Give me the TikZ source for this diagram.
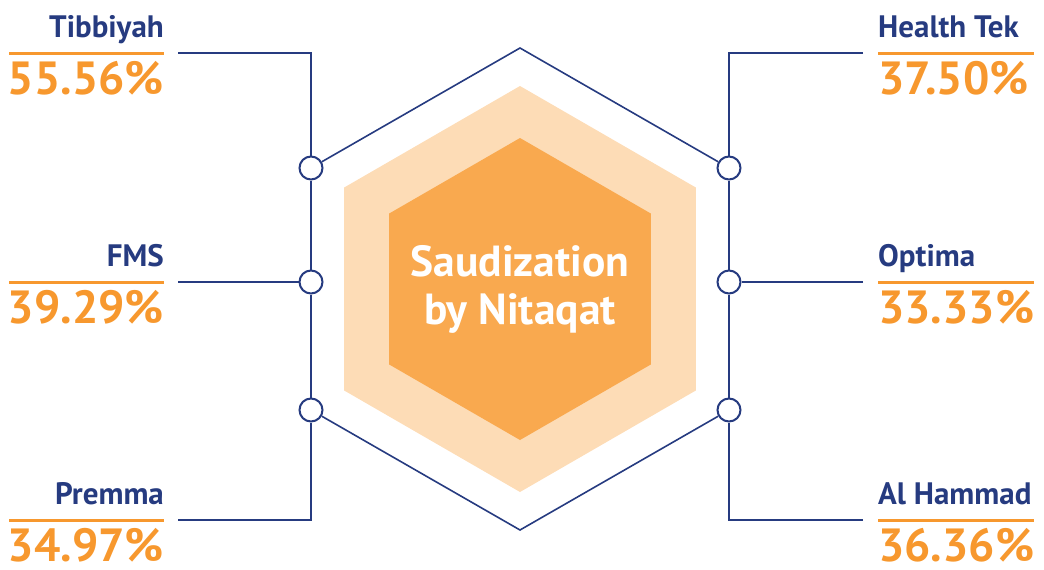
\documentclass[tikz,border=0pt]{standalone}
\usepackage{fontspec}
\setmainfont{PT Sans}
\usetikzlibrary{positioning}
\definecolor{navy}{HTML}{263B80}
\definecolor{amber}{HTML}{F7982E}
\definecolor{paleorange}{HTML}{FDDCB6}
\definecolor{midorange}{HTML}{F9A94F}

\begin{document}
\begin{tikzpicture}[x=1pt,y=-1pt,
  link/.style={navy,line width=1.6pt},
  dot/.style={circle,draw=navy,line width=2pt,fill=white,minimum size=23pt,inner sep=0pt},
  firm/.style={font=\bfseries\fontsize{31}{31}\selectfont,text=navy,inner sep=0pt},
  share/.style={font=\bfseries\fontsize{46.5}{46.5}\selectfont,text=amber,inner sep=0pt},
  rule/.style={amber,line width=3pt}]
\useasboundingbox (0,0) rectangle (1044,570);

% hexagons
\fill[paleorange,shift={(520,289)}] (90:203) -- (30:203) -- (-30:203) -- (-90:203) -- (-150:203) -- (150:203) -- cycle;
\fill[midorange,shift={(520,289)}] (90:151) -- (30:151) -- (-30:151) -- (-90:151) -- (-150:151) -- (150:151) -- cycle;
\node[font=\bfseries\fontsize{43.5}{48}\selectfont,text=white,align=center] (hub) at (520,289) {Saudization\\by Nitaqat};

\node[dot] (L1) at (311,168) {};
\node[dot] (L2) at (311,282) {};
\node[dot] (L3) at (311,410) {};
\node[dot] (R1) at (729,168) {};
\node[dot] (R2) at (729,282) {};
\node[dot] (R3) at (729,410) {};
\coordinate (top) at (520,48);
\coordinate (bot) at (520,530);
\coordinate (la) at (178,53);
\coordinate (lb) at (178,282);
\coordinate (lc) at (178,520);
\coordinate (ra) at (863,53);
\coordinate (rb) at (863,282);
\coordinate (rc) at (863,520);

\draw[link] (L1) -- (top) -- (R1);
\draw[link] (L3) -- (bot) -- (R3);
\draw[link] (L1) -- (L2) -- (L3);
\draw[link] (R1) -- (R2) -- (R3);
\draw[link] (la) -| (L1);
\draw[link] (lb) -- (L2);
\draw[link] (lc) -| (L3);
\draw[link] (ra) -| (R1);
\draw[link] (rb) -- (R2);
\draw[link] (rc) -| (R3);

\foreach \y/\firm/\pct [count=\i] in {53/Tibbiyah/55.56\%, 282/FMS/39.29\%, 520/Premma/34.97\%} {
  \draw[rule] (9,\y) -- (164,\y);
  \node[firm,anchor=base east] (lf\i) at (164,\y-16) {\firm};
  \node[share,anchor=base east] (lp\i) at (164,\y+41) {\pct};
}
\foreach \y/\firm/\pct [count=\i] in {53/Health Tek/37.50\%, 282/Optima/33.33\%, 520/Al Hammad/36.36\%} {
  \draw[rule] (878,\y) -- (1034,\y);
  \node[firm,anchor=base west] (rf\i) at (878,\y-16) {\firm};
  \node[share,anchor=base west] (rp\i) at (878,\y+41) {\pct};
}
\end{tikzpicture}
\end{document}
